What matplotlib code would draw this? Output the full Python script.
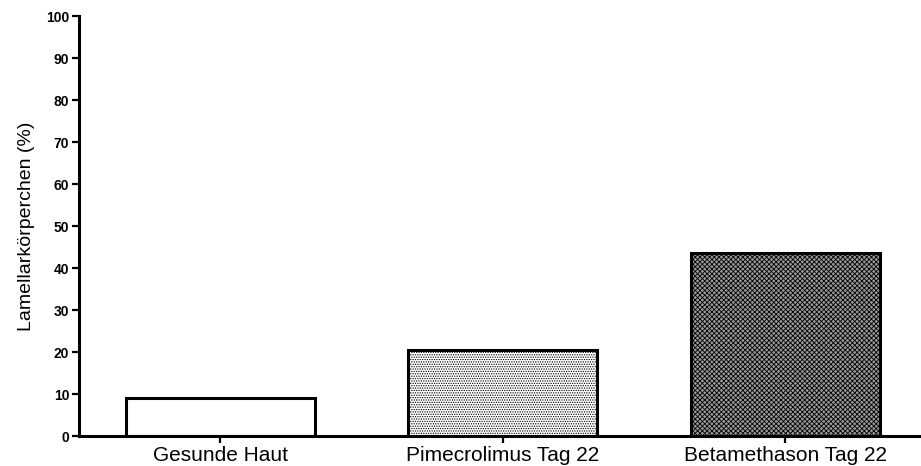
import matplotlib
matplotlib.use('Agg')
from matplotlib import pyplot as plt

plt.rcParams['font.family'] = ['Liberation Sans', 'DejaVu Sans']
plt.rcParams['hatch.linewidth'] = 0.6

# data
groups = ['Gesunde Haut', 'Pimecrolimus Tag 22', 'Betamethason Tag 22']
values = [9.1, 20.5, 43.6]
hatches = ['', '.......', 'xxxxxxx']
fills = ['white', 'white', '#9a9a9a']

fig = plt.figure(figsize=[9.21, 4.66], dpi=100)
ax = fig.add_axes([79 / 921, 30 / 466, 1 - 79 / 921, 420 / 466])

positions = list(range(len(groups)))
for pos, val, hatch, fc in zip(positions, values, hatches, fills):
    ax.bar(pos, val, width=0.67, facecolor=fc, edgecolor='black',
           linewidth=2.2, hatch=hatch, zorder=2)

ax.set_xlim(-0.5, 2.48)
ax.set_ylim(0, 100)
ax.set_yticks(range(0, 101, 10))
ax.set_xticks(positions)
ax.set_xticklabels(groups, fontsize=15)
for label in ax.get_yticklabels():
    label.set_fontweight('bold')
    label.set_fontsize(10)
ax.set_ylabel('Lamellarkörperchen (%)', fontsize=14, labelpad=8)

for side in ['top', 'right']:
    ax.spines[side].set_visible(False)
for side in ['left', 'bottom']:
    ax.spines[side].set_linewidth(2.2)
ax.tick_params(axis='both', direction='out', width=1.6, length=5, pad=2)

plt.savefig('out.png', dpi=100)
